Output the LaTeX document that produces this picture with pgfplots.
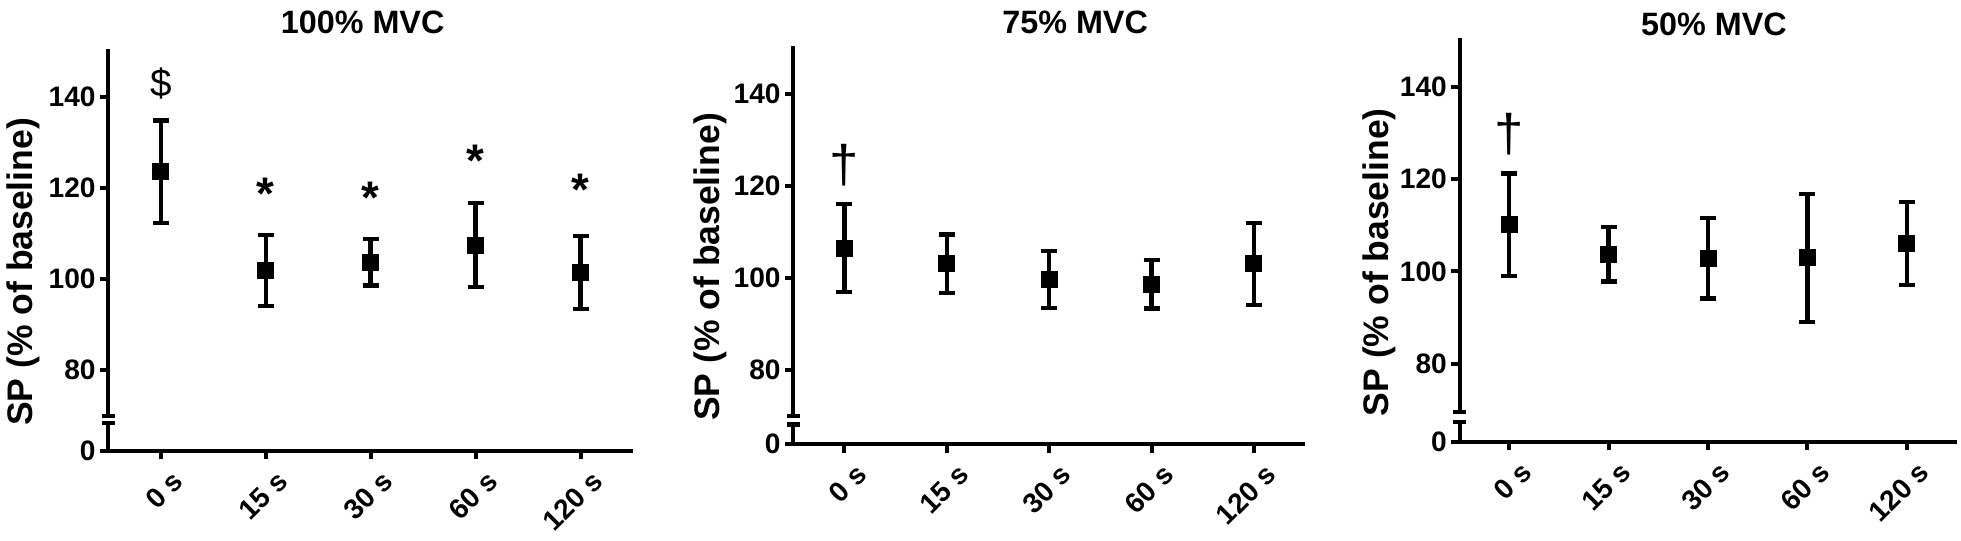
\documentclass[border=0pt]{standalone}
\usepackage{pgfplots}
\pgfplotsset{compat=1.18}
\usepackage{pgfplotstable}
\usepackage{fontspec}
\setmainfont{Liberation Sans}

\pgfplotstableread{
x y e
0 123.5 11.3
1 101.8 7.8
2 103.6 5.1
3 107.4 9.2
4 101.4 8.0
}\dataA
\pgfplotstableread{
x y e
0 106.5 9.6
1 103.1 6.4
2 99.7 6.2
3 98.7 5.3
4 103.1 8.9
}\dataB
\pgfplotstableread{
x y e
0 110.1 11.1
1 103.7 5.9
2 102.8 8.7
3 102.9 13.9
4 106.1 9.0
}\dataC

\pgfplotsset{
  spstyle/.style={
    scale only axis,
    anchor=south west,
    axis lines=left,
    x axis line style={-, line width=1.14pt},
    y axis line style={draw=none},
    xmin=-0.5, xmax=4.5,
    ymax=150.5,
    xtick={0,1,2,3,4},
    xticklabels={0 s,15 s,30 s,60 s,120 s},
    tick align=outside,
    major tick length=0.85mm,
    major tick style={line width=1.14pt, black},
    tick label style={font=\bfseries\fontsize{8}{9}\selectfont},
    xticklabel style={xshift=1.0mm, yshift=-0.42mm, rotate=45, anchor=north east, inner sep=1pt},
    yticklabel style={inner sep=1pt},
    yticklabels={0,80,100,120,140},
    ylabel={SP (\% of baseline)},
    ylabel style={font=\bfseries\fontsize{10.1}{11}\selectfont, at={(axis description cs:-0.162,0.445)}, anchor=center},
    title style={font=\bfseries\fontsize{9.2}{11}\selectfont, at={(axis description cs:0.5,1)}, anchor=center},
    clip=false,
  },
  spplot/.style={black, only marks, mark=square*, mark size=0.78mm,
    error bars/.cd, y dir=both, y explicit,
    error bar style={line width=1.25pt, black},
    error mark options={rotate=90, mark size=0.8mm, line width=1.2pt, black}},
}

\begin{document}
\begin{tikzpicture}
\useasboundingbox (0,0) rectangle (196.1mm,54.1mm);

% ---------- 100% MVC ----------
\begin{axis}[spstyle, at={(10.83mm,9.03mm)}, width=52.47mm, height=40.17mm,
  ymin=62.2, ytick={62.2,80,100,120,140},
  title={100\% MVC}, title style={yshift=0.58mm, xshift=-0.8mm}]
\addplot[spplot] table[x=x, y=y, y error=e] {\dataA};
\draw[line width=1.14pt, line cap=rect] (axis cs:-0.5,62.2) -- (axis cs:-0.5,68.2);
\draw[line width=1.14pt] (axis cs:-0.5,69.9) -- (axis cs:-0.5,150.5);
\draw[line width=1.14pt] ([xshift=-0.65mm]axis cs:-0.5,68.2) -- ([xshift=0.65mm]axis cs:-0.5,68.2);
\draw[line width=1.14pt] ([xshift=-0.65mm]axis cs:-0.5,69.9) -- ([xshift=0.65mm]axis cs:-0.5,69.9);
\node[anchor=north, inner sep=0pt, font=\fontsize{11}{12}\selectfont] at (axis cs:0,146.6) {\$};
\node[anchor=north, inner sep=0pt, font=\bfseries\fontsize{13}{13}\selectfont] at (axis cs:1,122.3) {*};
\node[anchor=north, inner sep=0pt, font=\bfseries\fontsize{13}{13}\selectfont] at (axis cs:2,121.5) {*};
\node[anchor=north, inner sep=0pt, font=\bfseries\fontsize{13}{13}\selectfont] at (axis cs:3,129.6) {*};
\node[anchor=north, inner sep=0pt, font=\bfseries\fontsize{13}{13}\selectfont] at (axis cs:4,123.1) {*};
\end{axis}

% ---------- 75% MVC ----------
\begin{axis}[spstyle, at={(79.33mm,9.67mm)}, width=51.17mm, height=39.86mm,
  ymin=63.9, ytick={63.9,80,100,120,140},
  title={75\% MVC}, title style={yshift=0.18mm, xshift=2.6mm}]
\addplot[spplot] table[x=x, y=y, y error=e] {\dataB};
\draw[line width=1.14pt, line cap=rect] (axis cs:-0.5,63.9) -- (axis cs:-0.5,68.2);
\draw[line width=1.14pt] (axis cs:-0.5,70.0) -- (axis cs:-0.5,150.5);
\draw[line width=1.14pt] ([xshift=-0.65mm]axis cs:-0.5,68.2) -- ([xshift=0.65mm]axis cs:-0.5,68.2);
\draw[line width=1.14pt] ([xshift=-0.65mm]axis cs:-0.5,70.0) -- ([xshift=0.65mm]axis cs:-0.5,70.0);
\node[anchor=north, inner sep=0pt, font=\fontsize{15}{16}\selectfont] at (axis cs:0,129.3) {†};
\end{axis}

% ---------- 50% MVC ----------
\begin{axis}[spstyle, at={(145.95mm,9.93mm)}, width=49.7mm, height=40.34mm,
  ymin=63.1, ytick={63.1,80,100,120,140},
  title={50\% MVC}, title style={yshift=-0.72mm, xshift=0.6mm}]
\addplot[spplot] table[x=x, y=y, y error=e] {\dataC};
\draw[line width=1.14pt, line cap=rect] (axis cs:-0.5,63.1) -- (axis cs:-0.5,67.4);
\draw[line width=1.14pt] (axis cs:-0.5,69.6) -- (axis cs:-0.5,150.5);
\draw[line width=1.14pt] ([xshift=-0.65mm]axis cs:-0.5,67.4) -- ([xshift=0.65mm]axis cs:-0.5,67.4);
\draw[line width=1.14pt] ([xshift=-0.65mm]axis cs:-0.5,69.6) -- ([xshift=0.65mm]axis cs:-0.5,69.6);
\node[anchor=north, inner sep=0pt, font=\fontsize{15}{16}\selectfont] at (axis cs:0,134.4) {†};
\end{axis}
\end{tikzpicture}
\end{document}
